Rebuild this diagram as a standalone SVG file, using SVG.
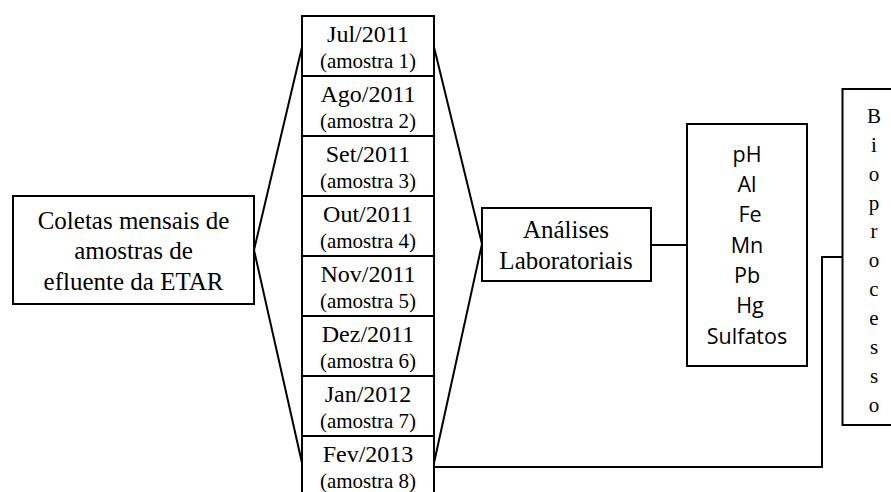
<svg xmlns="http://www.w3.org/2000/svg" width="891" height="492" viewBox="0 0 891 492">
<style>
.box{fill:#fff;stroke:#000;stroke-width:2}
.ln{fill:none;stroke:#000;stroke-width:2}
.s{font-family:"Liberation Serif","Times New Roman",serif;fill:#000;text-anchor:middle}
.m{font-size:24px}
.a{font-size:21px}
.big{font-size:25px}
.c{font-family:"Open Sans","Noto Sans",sans-serif;font-size:21.5px;fill:#000;text-anchor:middle}
</style>
<rect width="891" height="492" fill="#fff"/>
<g id="connectors">
<path class="ln" d="M254,250 L302,47 M254,250 L302,463"/>
<path class="ln" d="M434,47 L482,244 M434,463 L482,244"/>
<path class="ln" d="M651,245 L687,245"/>
<path class="ln" d="M434,467 L822,467 L822,257 L843,257"/>
</g>
<g id="coletas">
<rect class="box" x="13" y="196" width="241" height="108"/>
<text class="s big" x="133.5" y="229">Coletas mensais de</text>
<text class="s big" x="133.5" y="259">amostras de</text>
<text class="s big" x="133.5" y="290">efluente da ETAR</text>
</g>
<g id="amostras">
<rect class="box" x="302" y="16" width="132" height="500"/>
<path class="ln" d="M302,76H434M302,136H434M302,196H434M302,256H434M302,316H434M302,376H434M302,436H434"/>
<text class="s m" x="368" y="42">Jul/2011</text>
<text class="s a" x="368" y="68">(amostra 1)</text>
<text class="s m" x="368" y="102">Ago/2011</text>
<text class="s a" x="368" y="128">(amostra 2)</text>
<text class="s m" x="368" y="162">Set/2011</text>
<text class="s a" x="368" y="188">(amostra 3)</text>
<text class="s m" x="368" y="222">Out/2011</text>
<text class="s a" x="368" y="248">(amostra 4)</text>
<text class="s m" x="368" y="282">Nov/2011</text>
<text class="s a" x="368" y="308">(amostra 5)</text>
<text class="s m" x="368" y="342">Dez/2011</text>
<text class="s a" x="368" y="368">(amostra 6)</text>
<text class="s m" x="368" y="402">Jan/2012</text>
<text class="s a" x="368" y="428">(amostra 7)</text>
<text class="s m" x="368" y="462">Fev/2013</text>
<text class="s a" x="368" y="488">(amostra 8)</text>
</g>
<g id="analises">
<rect class="box" x="482" y="208" width="169" height="73"/>
<text class="s big" x="566" y="238">Análises</text>
<text class="s big" x="566" y="269">Laboratoriais</text>
</g>
<g id="parametros">
<rect class="box" x="687" y="124" width="120" height="242"/>
<text class="c" x="747" y="162">pH</text>
<text class="c" x="747" y="192">Al</text>
<text class="c" x="750" y="222">Fe</text>
<text class="c" x="747" y="253">Mn</text>
<text class="c" x="747" y="283">Pb</text>
<text class="c" x="750" y="313">Hg</text>
<text class="c" x="747" y="344">Sulfatos</text>
</g>
<g id="bioprocesso">
<rect class="box" x="842.5" y="89" width="60" height="336"/>
<text class="s" style="font-size:21px" x="874" y="123">B</text>
<text class="s" style="font-size:21px" x="874" y="152">i</text>
<text class="s" style="font-size:21px" x="874" y="181">o</text>
<text class="s" style="font-size:21px" x="874" y="210">p</text>
<text class="s" style="font-size:21px" x="874" y="238">r</text>
<text class="s" style="font-size:21px" x="874" y="267">o</text>
<text class="s" style="font-size:21px" x="874" y="296">c</text>
<text class="s" style="font-size:21px" x="874" y="325">e</text>
<text class="s" style="font-size:21px" x="874" y="354">s</text>
<text class="s" style="font-size:21px" x="874" y="383">s</text>
<text class="s" style="font-size:21px" x="874" y="412">o</text>
</g>
</svg>
